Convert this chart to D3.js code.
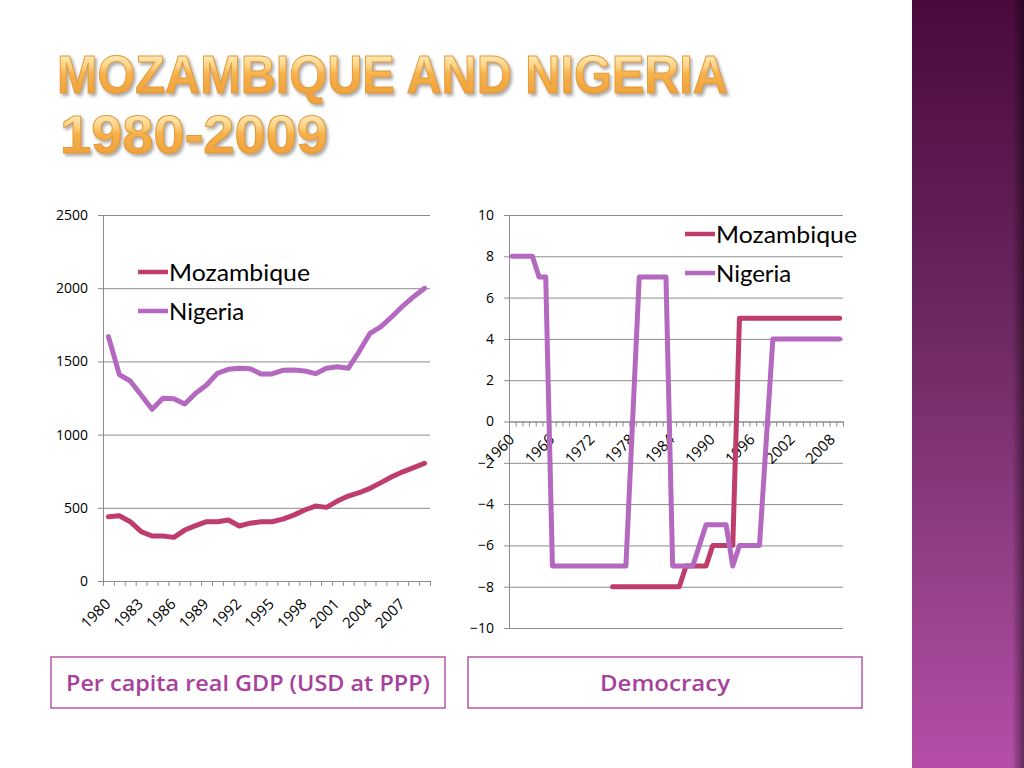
<!DOCTYPE html>
<html><head><meta charset="utf-8">
<script src="https://cdn.jsdelivr.net/npm/d3@7"></script>
<style>html,body{margin:0;padding:0;background:#fff;} svg{display:block}</style>
</head><body><svg id="c" width="1024" height="768"></svg>
<script>
// ---------- DATA ----------
const gdpYears = [1980,1981,1982,1983,1984,1985,1986,1987,1988,1989,1990,1991,1992,1993,1994,1995,1996,1997,1998,1999,2000,2001,2002,2003,2004,2005,2006,2007,2008,2009];
const gdpTickLabels = [1980,1983,1986,1989,1992,1995,1998,2001,2004,2007];
const gdpMozambique = [439,446,405,337,307,307,298,348,378,405,405,417,376,395,405,405,423,450,485,512,503,546,580,603,633,672,712,746,774,804];
const gdpNigeria = [1669,1410,1366,1270,1173,1248,1245,1209,1282,1339,1419,1446,1453,1450,1414,1414,1439,1442,1435,1416,1453,1464,1453,1567,1692,1737,1805,1878,1942,1999];
const gdpYTicks = [0,500,1000,1500,2000,2500];

const demYears = [1960,1961,1962,1963,1964,1965,1966,1967,1968,1969,1970,1971,1972,1973,1974,1975,1976,1977,1978,1979,1980,1981,1982,1983,1984,1985,1986,1987,1988,1989,1990,1991,1992,1993,1994,1995,1996,1997,1998,1999,2000,2001,2002,2003,2004,2005,2006,2007,2008,2009];
const demTickLabels = [1960,1966,1972,1978,1984,1990,1996,2002,2008];
const demMozambique = [null,null,null,null,null,null,null,null,null,null,null,null,null,null,null,-8,-8,-8,-8,-8,-8,-8,-8,-8,-8,-8,-7,-7,-7,-7,-6,-6,-6,-6,5,5,5,5,5,5,5,5,5,5,5,5,5,5,5,5];
const demNigeria = [8,8,8,8,7,7,-7,-7,-7,-7,-7,-7,-7,-7,-7,-7,-7,-7,0,7,7,7,7,7,-7,-7,-7,-7,-6,-5,-5,-5,-5,-7,-6,-6,-6,-6,-1,4,4,4,4,4,4,4,4,4,4,4];
const demYTicks = [-10,-8,-6,-4,-2,0,2,4,6,8,10];

const seriesNames = ["Mozambique","Nigeria"];
const colors = {Mozambique:"#bf3d6c", Nigeria:"#b468c0"};
const titleLines = ["MOZAMBIQUE AND NIGERIA","1980-2009"];
const captions = ["Per capita real GDP (USD at PPP)","Democracy"];

// ---------- SETUP ----------
const svg = d3.select("#c");
const defs = svg.append("defs");

const bandGrad = defs.append("linearGradient").attr("id","band").attr("x1",0).attr("y1",0).attr("x2",0).attr("y2",1);
bandGrad.append("stop").attr("offset","0%").attr("stop-color","#4a0a3c");
bandGrad.append("stop").attr("offset","45%").attr("stop-color","#6f2a64");
bandGrad.append("stop").attr("offset","75%").attr("stop-color","#96408a");
bandGrad.append("stop").attr("offset","100%").attr("stop-color","#b44ea7");
const shadeGrad = defs.append("linearGradient").attr("id","shade").attr("x1",0).attr("y1",0).attr("x2",1).attr("y2",0);
shadeGrad.append("stop").attr("offset","0%").attr("stop-color","#000").attr("stop-opacity",0);
shadeGrad.append("stop").attr("offset","100%").attr("stop-color","#000").attr("stop-opacity",0.45);

const titleGrad = defs.append("linearGradient").attr("id","tg").attr("gradientUnits","userSpaceOnUse")
  .attr("x1",0).attr("y1",52).attr("x2",0).attr("y2",112).attr("spreadMethod","repeat");
titleGrad.append("stop").attr("offset","0%").attr("stop-color","#fff3c6");
titleGrad.append("stop").attr("offset","25%").attr("stop-color","#fcd07e");
titleGrad.append("stop").attr("offset","36%").attr("stop-color","#f7b24a");
titleGrad.append("stop").attr("offset","68%").attr("stop-color","#f0a33c");
titleGrad.append("stop").attr("offset","100%").attr("stop-color","#f0a33c");
const shadow = defs.append("filter").attr("id","ts").attr("x","-5%").attr("y","-20%").attr("width","110%").attr("height","150%");
shadow.append("feDropShadow").attr("dx",2).attr("dy",2.5).attr("stdDeviation",1.5).attr("flood-color","#777").attr("flood-opacity",0.6);

// right band
svg.append("rect").attr("x",912).attr("y",0).attr("width",112).attr("height",768).attr("fill","url(#band)");
svg.append("rect").attr("x",1012).attr("y",0).attr("width",12).attr("height",768).attr("fill","url(#shade)");

// title (one text block, two lines)
const title = svg.append("text").attr("filter","url(#ts)")
  .attr("font-family","Liberation Sans").attr("font-weight",700).attr("font-size",53)
  .attr("fill","url(#tg)").attr("stroke","#e39a3c").attr("stroke-width",1);
title.append("tspan").attr("x",57).attr("y",93).attr("textLength",671).attr("lengthAdjust","spacingAndGlyphs").text(titleLines[0]);
title.append("tspan").attr("x",60).attr("y",153).attr("textLength",268).attr("lengthAdjust","spacingAndGlyphs").text(titleLines[1]);

const gridColor = "#8c8c8c";
const labelFont = "Open Sans";

function styleAxis(g, fs){
  g.selectAll("path.domain").attr("stroke",gridColor).attr("stroke-width",1);
  g.selectAll(".tick line").attr("stroke",gridColor).attr("stroke-width",1);
  g.selectAll("text").attr("font-family",labelFont).attr("font-size",fs||14).attr("fill","#000");
}

function drawChart(cfg){
  const {x0,x1,y0,y1,years,yDomain,yTicks,tickLabels,seriesData,legend,labelDy} = cfg;
  const g = svg.append("g");
  const x = d3.scaleBand().domain(years).range([x0,x1]).padding(0);
  const xi = d3.scaleLinear().domain([0,years.length]).range([x0,x1]);
  const y = d3.scaleLinear().domain(yDomain).range([y1,y0]);
  const w = x1-x0;

  const ya = g.append("g").attr("transform",`translate(${x0},0)`)
    .call(d3.axisLeft(y).tickValues(yTicks).tickSize(-w).tickPadding(15).tickFormat(d3.format("d")));
  styleAxis(ya, 14);
  const yo = g.append("g").attr("transform",`translate(${x0},0)`)
    .call(d3.axisLeft(y).tickValues(yTicks).tickSize(5).tickFormat(""));
  styleAxis(yo);

  const ay = y(0);
  const xa = g.append("g").attr("transform",`translate(0,${ay})`)
    .call(d3.axisBottom(xi).tickValues(d3.range(years.length+1)).tickSize(5).tickFormat(""));
  styleAxis(xa);
  const xl = g.append("g").attr("transform",`translate(0,${ay})`)
    .call(d3.axisBottom(x).tickValues(tickLabels).tickSize(0).tickFormat(d3.format("d")));
  xl.select("path.domain").remove();
  styleAxis(xl, 15);
  xl.selectAll("text").attr("text-anchor","end").attr("dy",null).attr("y",0)
    .attr("transform",`translate(3,${labelDy}) rotate(-45)`);

  const line = d3.line().defined(d=>d.v!==null).x(d=>x(d.yr)+x.bandwidth()/2).y(d=>y(d.v));
  seriesData.forEach(s=>{
    const pts = years.map((yr,i)=>({yr, v:s.values[i]}));
    g.append("path").datum(pts).attr("d",line).attr("fill","none")
      .attr("stroke",colors[s.name]).attr("stroke-width",5)
      .attr("stroke-linejoin","round").attr("stroke-linecap","round");
  });

  seriesNames.forEach((n,i)=>{
    const ly = legend.y + i*legend.dy;
    g.append("line").attr("x1",legend.x).attr("x2",legend.x+30).attr("y1",ly).attr("y2",ly)
      .attr("stroke",colors[n]).attr("stroke-width",4.5);
    g.append("text").attr("x",legend.x+31).attr("y",ly).attr("dy","0.36em")
      .attr("font-family","Lato").attr("font-size",24).attr("fill","#000")
      .attr("textLength", n==="Mozambique"?141:null)
      .attr("lengthAdjust","spacingAndGlyphs")
      .text(n);
  });
}

drawChart({x0:103,x1:430,y0:215,y1:581,years:gdpYears,yDomain:[0,2500],yTicks:gdpYTicks,tickLabels:gdpTickLabels,
  seriesData:[{name:"Mozambique",values:gdpMozambique},{name:"Nigeria",values:gdpNigeria}],
  legend:{x:138,y:272,dy:39},labelDy:24});
drawChart({x0:509,x1:843,y0:215,y1:628,years:demYears,yDomain:[-10,10],yTicks:demYTicks,tickLabels:demTickLabels,
  seriesData:[{name:"Mozambique",values:demMozambique},{name:"Nigeria",values:demNigeria}],
  legend:{x:685,y:234,dy:39},labelDy:19});

// caption boxes
const boxes = [{x:51,w:394,t:captions[0],tl:364},{x:468,w:394,t:captions[1],tl:130}];
boxes.forEach(b=>{
  svg.append("rect").attr("x",b.x).attr("y",657).attr("width",b.w).attr("height",51)
    .attr("fill","#fff").attr("stroke","#b35aa8").attr("stroke-width",1.5);
  svg.append("text").attr("x",b.x+b.w/2).attr("y",684).attr("dy","0.35em").attr("text-anchor","middle")
    .attr("font-family","Open Sans").attr("font-weight",600).attr("font-size",21)
    .attr("fill","#a8409c").attr("textLength",b.tl).attr("lengthAdjust","spacingAndGlyphs").text(b.t);
});
</script></body></html>
